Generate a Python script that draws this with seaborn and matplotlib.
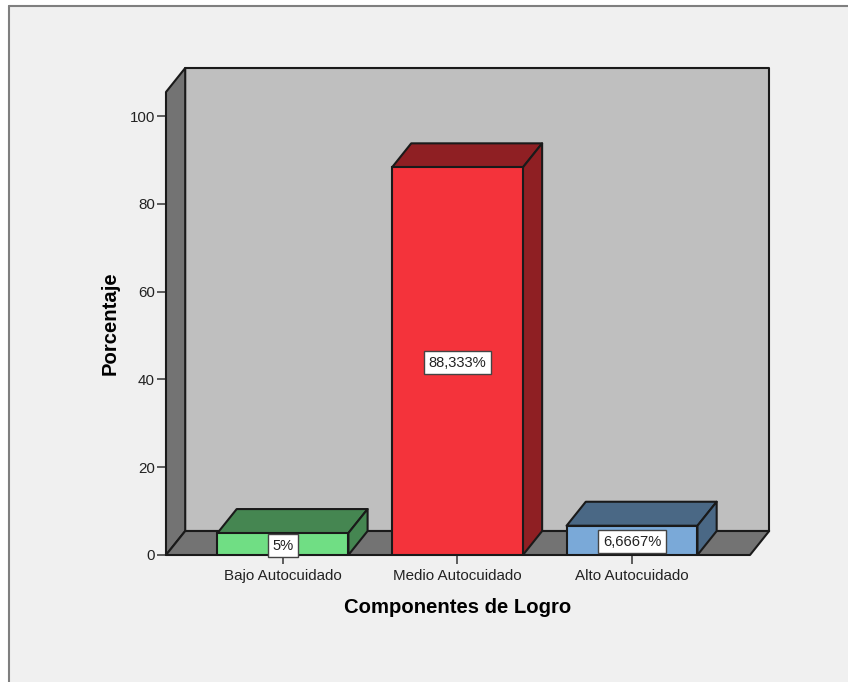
import matplotlib
matplotlib.use('Agg')
import matplotlib.pyplot as plt
from matplotlib.patches import Polygon, Rectangle
from matplotlib.lines import Line2D
import seaborn as sns

# Data
categories = ['Bajo Autocuidado', 'Medio Autocuidado', 'Alto Autocuidado']
porcentaje = [5, 88.333, 6.6667]
value_labels = ['5%', '88,333%', '6,6667%']
y_ticks = [0, 20, 40, 60, 80, 100]

front_colors = ['#70de84', '#f4333b', '#7aa9d8']
dark_colors = ['#458651', '#8f1f23', '#4a6885']

W, H = 848, 682
BG = '#f0f0f0'
WALL = '#bfbfbf'
SIDE = '#737373'
LINE = '#1a1a1a'

sns.set_style('white')
plt.rcParams['font.family'] = ['Liberation Sans', 'DejaVu Sans']

fig = plt.figure(figsize=(W / 100, H / 100), dpi=100, facecolor='white')

# outer panel, only left and top border are inside the picture
fig.patches.append(Rectangle((8 / W, 0), 1, 1 - 5 / H, transform=fig.transFigure,
                             facecolor=BG, edgecolor='none', zorder=-5))
fig.add_artist(Line2D([8.5 / W, 8.5 / W], [0, 1 - 5.5 / H], color='#7f7f7f', lw=1.5))
fig.add_artist(Line2D([8.5 / W, 1], [1 - 5.5 / H, 1 - 5.5 / H], color='#7f7f7f', lw=1.5))

ax = fig.add_axes([166 / W, (H - 555) / H, 584 / W, (555 - 92) / H])
ax.patch.set_visible(False)

sns.barplot(x=categories, y=porcentaje, hue=categories, palette=front_colors,
            saturation=1, width=0.75, edgecolor=LINE, linewidth=1.5, legend=False,
            errorbar=None, zorder=3, ax=ax)

x0, x1 = -0.67, 2.676
y0, y1 = 0, 105.5
ax.set_xlim(x0, x1)
ax.set_ylim(y0, y1)

# depth of the fake 3D, in data units
dx = 19.2 / 174.5
dy = 24 / 4.39


def face(points, color, z=1):
    ax.add_patch(Polygon(points, closed=True, facecolor=color, edgecolor=LINE,
                         linewidth=1.5, joinstyle='round', clip_on=False, zorder=z))


# walls and floor
face([(x0 + dx, y0 + dy), (x1 + dx, y0 + dy), (x1 + dx, y1 + dy), (x0 + dx, y1 + dy)], WALL)
face([(x0, y0), (x0 + dx, y0 + dy), (x0 + dx, y1 + dy), (x0, y1)], SIDE)
face([(x0, y0), (x1, y0), (x1 + dx, y0 + dy), (x0 + dx, y0 + dy)], SIDE)

# top and side of every bar
for bar, dark in zip(ax.patches, dark_colors):
    left, right = bar.get_x(), bar.get_x() + bar.get_width()
    top = bar.get_height()
    face([(left, top), (right, top), (right + dx, top + dy), (left + dx, top + dy)], dark, 2)
    face([(right, 0), (right + dx, dy), (right + dx, top + dy), (right, top)], dark, 2)

for i, (val, txt) in enumerate(zip(porcentaje, value_labels)):
    ax.text(i, val / 2, txt, ha='center', va='center_baseline', fontsize=10.6, color='#222222', zorder=5,
            bbox=dict(boxstyle='square,pad=0.3', facecolor='white', edgecolor='#444444', linewidth=1))

sns.despine(ax=ax, left=True, bottom=True, top=True, right=True)
ax.set_yticks(y_ticks)
ax.tick_params(axis='both', which='major', length=6.5, width=1.1, color='#333333', labelsize=10.9,
               labelcolor='#222222', left=True, bottom=True, pad=1.5)
ax.tick_params(axis='x', pad=3.5)
ax.set_xlabel('Componentes de Logro', fontsize=14.6, fontweight='bold', color='black', labelpad=11)
ax.set_ylabel('Porcentaje', fontsize=14.6, fontweight='bold', color='black', labelpad=7)

fig.savefig('out.png', dpi=100, facecolor=fig.get_facecolor())
